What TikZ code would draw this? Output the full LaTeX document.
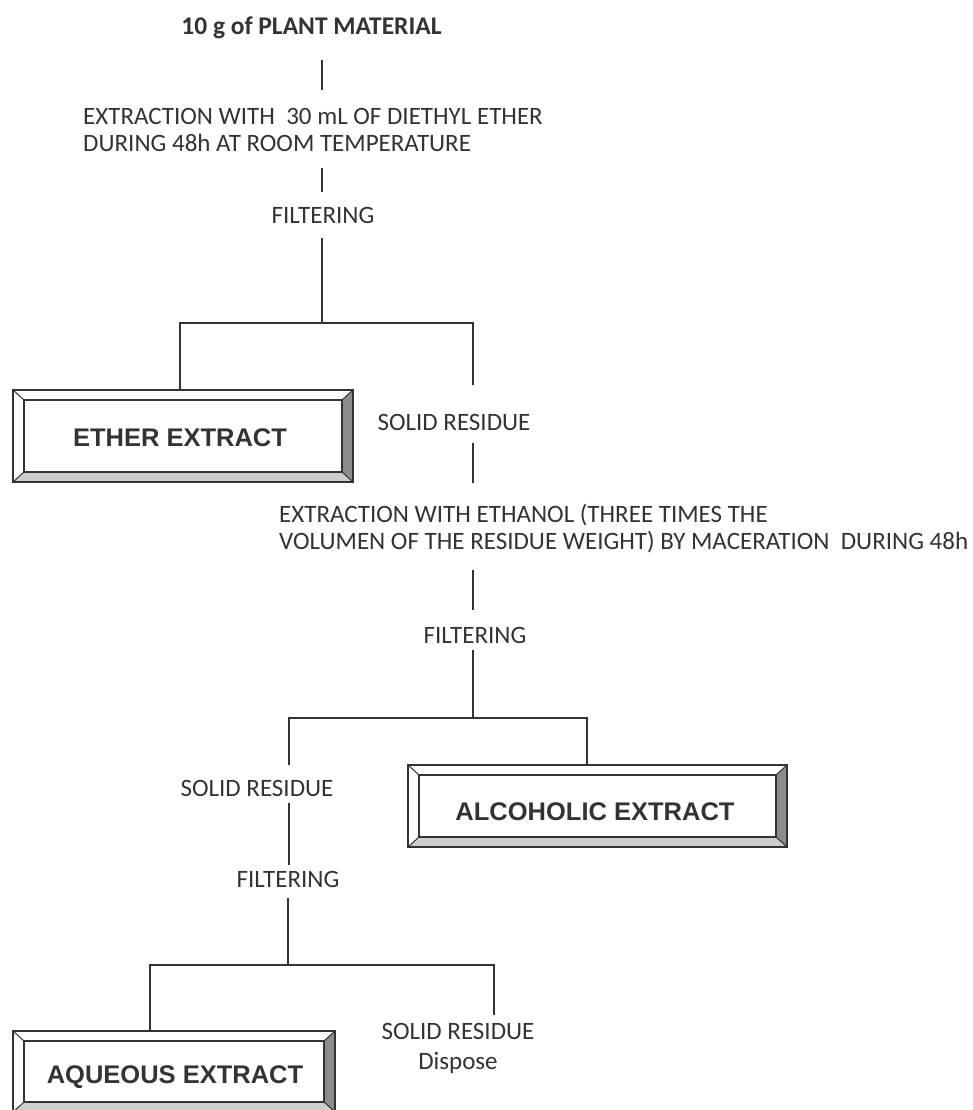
\documentclass[tikz,border=0pt]{standalone}
\usepackage{fontspec}
\setmainfont{Carlito}
\newfontfamily\boxfont{Liberation Sans}
\usetikzlibrary{calc}
\definecolor{ink}{HTML}{333333}
\definecolor{bevdark}{HTML}{8C8C8C}
\definecolor{bevlight}{HTML}{CDCDCD}
\tikzset{
  lbl/.style={font=\fontsize{25}{26.5}\selectfont, text=ink, inner sep=0pt, align=left},
  lblc/.style={font=\fontsize{25}{30}\selectfont, text=ink, inner sep=0pt, align=center},
  ttl/.style={font=\fontsize{25.5}{27}\selectfont\bfseries, text=ink, inner sep=0pt},
  extbox/.style={font=\boxfont\bfseries\fontsize{25.5}{27}\selectfont, text=ink, inner sep=0pt},
  conn/.style={draw=ink, line width=2pt},
}
\newcommand\bevelbox[1]{%
  \coordinate (#1-ia) at ($(#1.north west)+(11,10)$);
  \coordinate (#1-ib) at ($(#1.north east)+(-11,10)$);
  \coordinate (#1-ic) at ($(#1.south east)+(-11,-10)$);
  \coordinate (#1-id) at ($(#1.south west)+(11,-10)$);
  \fill[bevdark] (#1.north east) -- (#1.south east) -- (#1-ic) -- (#1-ib) -- cycle;
  \fill[bevlight] (#1.south east) -- (#1.south west) -- (#1-id) -- (#1-ic) -- cycle;
  \draw[ink, line width=2pt] (#1-ia) rectangle (#1-ic);
  \draw[ink, line width=1pt] (#1.north west) -- (#1-ia) (#1.north east) -- (#1-ib)
     (#1.south east) -- (#1-ic) (#1.south west) -- (#1-id);
  \draw[ink, line width=2.5pt] (#1.north west) rectangle (#1.south east);
}
\begin{document}
\begin{tikzpicture}[x=1pt, y=-1pt]
\useasboundingbox (0,0) rectangle (972,1110);
\clip (0,0) rectangle (972,1110);
\fill[white] (0,0) rectangle (972,1110);

% texts
\node[ttl] (title) at (311.5,28) {10 g of PLANT MATERIAL};
\node[lbl, anchor=west] (ext1) at (83,130) {EXTRACTION WITH~~30 mL OF DIETHYL ETHER\\DURING 48h AT ROOM TEMPERATURE};
\node[lblc] (filt1) at (323,215) {FILTERING};
\node[lblc] (res1) at (454,422) {SOLID RESIDUE};
\node[lbl, anchor=west] (ext2) at (279,528.5) {EXTRACTION WITH ETHANOL (THREE TIMES THE\\VOLUMEN OF THE RESIDUE WEIGHT) BY MACERATION~~DURING 48h};
\node[lblc] (filt2) at (475,635) {FILTERING};
\node[lblc] (res2) at (257,788) {SOLID RESIDUE};
\node[lblc] (filt3) at (288,879) {FILTERING};
\node[lblc] (res3) at (458,1048) {SOLID RESIDUE\\Dispose};

% boxes
\node[extbox, minimum width=340pt, minimum height=92pt] (ether) at (183,436) {};
\bevelbox{ether}
\node[extbox] (ethertxt) at (180,438) {ETHER EXTRACT};
\node[extbox, minimum width=379pt, minimum height=82pt] (alco) at (597.5,806) {};
\bevelbox{alco}
\node[extbox] (alcotxt) at (595,812) {ALCOHOLIC EXTRACT};
\node[extbox, minimum width=322pt, minimum height=81pt] (aque) at (174,1071.5) {};
\bevelbox{aque}
\node[extbox] (aquetxt) at (175,1077) {AQUEOUS EXTRACT};

% connector coordinates
\coordinate (a1) at (322,60);  \coordinate (a2) at (322,90);
\coordinate (a3) at (322,168); \coordinate (a4) at (322,192);
\coordinate (a5) at (322,238); \coordinate (j1) at (322,323);
\coordinate (j1l) at (180,323); \coordinate (j1r) at (473,323);
\coordinate (r1e) at (473,385);
\coordinate (b1) at (473,443); \coordinate (b2) at (473,483);
\coordinate (b3) at (473,570); \coordinate (b4) at (473,610);
\coordinate (b5) at (473,650); \coordinate (j2) at (473,718);
\coordinate (j2l) at (289,718); \coordinate (j2r) at (587,718);
\coordinate (c1) at (289,765);
\coordinate (c2) at (289,803); \coordinate (c3) at (289,865);
\coordinate (c4) at (288,898); \coordinate (j3) at (288,965);
\coordinate (j3l) at (150,965); \coordinate (j3r) at (494,965);
\coordinate (d1) at (494,1015);

\draw[conn] (a1) -- (a2);
\draw[conn] (a3) -- (a4);
\draw[conn] (a5) -- (j1);
\draw[conn] (j1l |- ether.north) -- (j1l) -- (j1r) -- (r1e);
\draw[conn] (b1) -- (b2);
\draw[conn] (b3) -- (b4);
\draw[conn] (b5) -- (j2);
\draw[conn] (c1) -- (j2l) -- (j2r) -- (j2r |- alco.north);
\draw[conn] (c2) -- (c3);
\draw[conn] (c4) -- (j3);
\draw[conn] (j3l |- aque.north) -- (j3l) -- (j3r) -- (d1);
\end{tikzpicture}
\end{document}
